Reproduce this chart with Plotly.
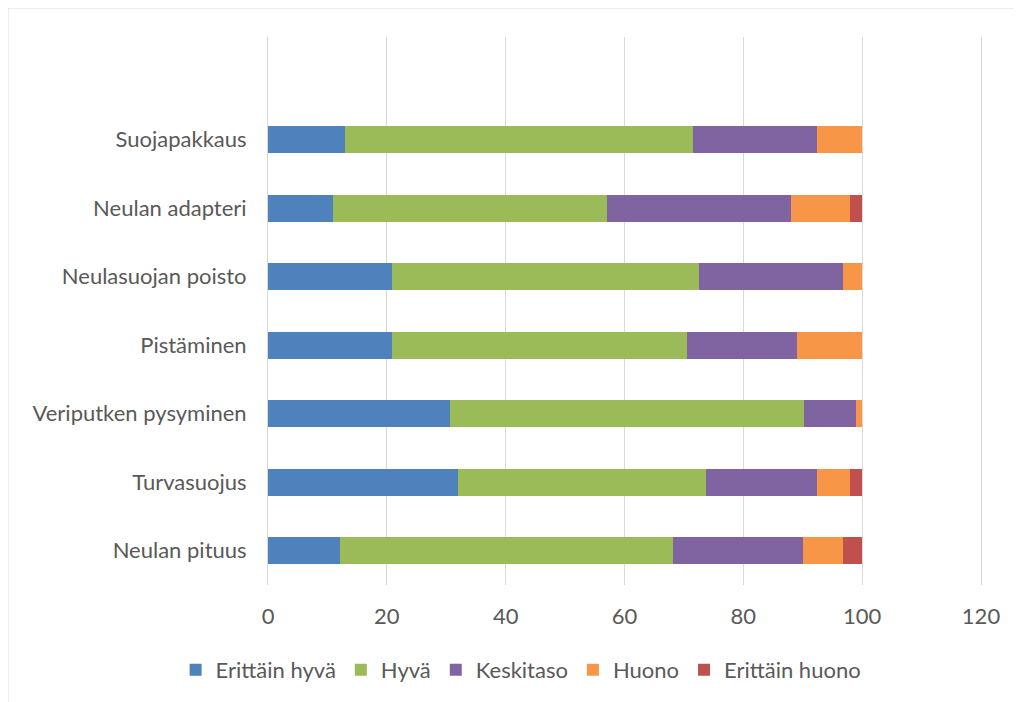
import plotly.graph_objects as go

categories = ["Neulan pituus", "Turvasuojus", "Veriputken pysyminen", "Pistäminen",
              "Neulasuojan poisto", "Neulan adapteri", "Suojapakkaus"]
series_names = ["Erittäin hyvä", "Hyvä", "Keskitaso", "Huono", "Erittäin huono"]
erittain_hyva = [12.1, 31.9, 30.7, 20.8, 20.8, 11.0, 13.0]
hyva = [56.0, 41.8, 59.5, 49.7, 51.8, 46.1, 58.5]
keskitaso = [22.0, 18.7, 8.7, 18.5, 24.1, 30.9, 20.9]
huono = [6.6, 5.5, 1.1, 11.0, 3.3, 9.9, 7.6]
erittain_huono = [3.3, 2.1, 0.0, 0.0, 0.0, 2.1, 0.0]
x_ticks = [0, 20, 40, 60, 80, 100, 120]

colors = ["#4F81BD", "#9BBB59", "#8064A2", "#F79646", "#C0504D"]
values = [erittain_hyva, hyva, keskitaso, huono, erittain_huono]

font_family = "Lato, 'Open Sans', sans-serif"
fs = 22
fig = go.Figure()
for name, vals, col in zip(series_names, values, colors):
    fig.add_trace(go.Bar(
        y=categories, x=vals, name=name, orientation="h",
        marker=dict(color=col, line=dict(width=0)), width=0.4,
    ))

L, R, T, B = 260, 49, 29, 125
pw = 1022 - L - R
ph = 702 - T - B

fig.update_layout(
    barmode="stack",
    width=1022, height=702,
    paper_bgcolor="white", plot_bgcolor="white",
    margin=dict(l=L, r=R, t=T, b=B),
    font=dict(family=font_family, size=fs, color="#595959"),
    xaxis=dict(range=[0, 120], tickvals=x_ticks, showgrid=True, gridcolor="#d9d9d9",
               gridwidth=1, zeroline=False, showline=False, ticks="",
               ticklabelstandoff=16, tickfont=dict(size=fs, color="#595959")),
    yaxis=dict(type="category", categoryorder="array", categoryarray=categories,
               range=[-0.5, 7.5], showgrid=False, zeroline=False,
               showline=True, linecolor="#d9d9d9", linewidth=1, mirror=True,
               ticks="", ticklabelstandoff=16, tickfont=dict(size=fs, color="#595959")),
    legend=dict(orientation="h", x=0.355, xanchor="center", xref="paper",
                y=-(670 - 585) / ph, yanchor="middle", font=dict(size=fs, color="#595959"),
                traceorder="normal", itemwidth=30),
    shapes=[dict(type="rect", xref="paper", yref="paper",
                 x0=(0 - L) / pw, x1=1.2, y0=-0.3, y1=1 + T / ph,
                 line=dict(color="#d9d9d9", width=1), fillcolor="rgba(0,0,0,0)", layer="below")],
)

fig.write_html("out.html")
